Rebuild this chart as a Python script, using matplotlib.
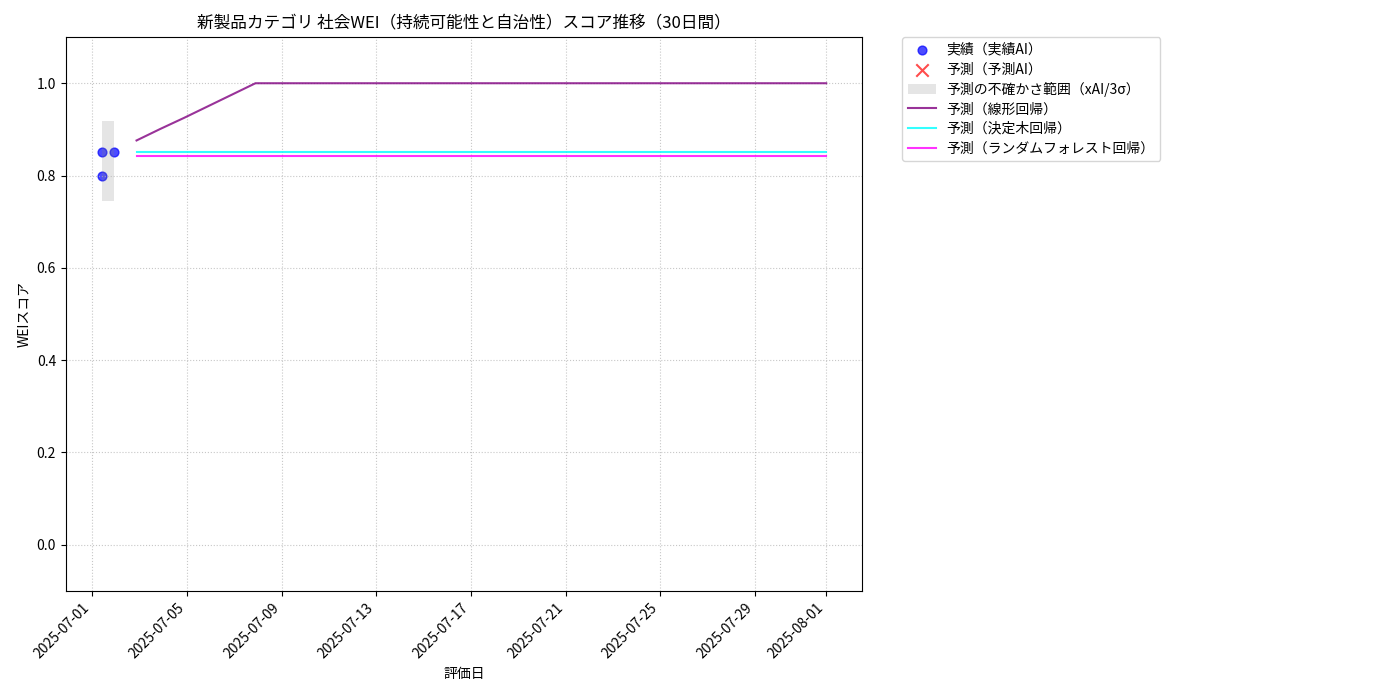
import matplotlib
matplotlib.use("Agg")
import matplotlib.pyplot as plt
import matplotlib.dates as mdates
import numpy as np
import pandas as pd

plt.rcParams['font.family'] = ['Noto Sans CJK JP', 'DejaVu Sans']

# 実績データ
actual_dates = pd.to_datetime(["2025-07-01 10:00", "2025-07-01 10:00", "2025-07-01 22:00"])
actual_scores = [0.85, 0.80, 0.85]

# 不確かさ範囲
band_dates = pd.to_datetime(["2025-07-01 10:00", "2025-07-01 22:00"])
band_lower = [0.745, 0.745]
band_upper = [0.919, 0.919]

# 予測 (30日間)
pred_start = "2025-07-02 21:00"
pred_end = "2025-08-01 00:00"
pred_dates = pd.date_range(pred_start, pred_end, periods=30)
pred_linear = [0.876, 0.901, 0.925, 0.950, 0.975] + [1.0] * 25
pred_tree = [0.850] * 30
pred_forest = [0.842] * 30

fig, ax = plt.subplots(figsize=(14, 7), dpi=100)

ax.scatter(actual_dates, actual_scores, color='blue', alpha=0.7, s=40, label='実績（実績AI）')
ax.scatter([], [], color='red', marker='x', s=80, alpha=0.7, label='予測（予測AI）')
ax.fill_between(band_dates, band_lower, band_upper, color='gray', alpha=0.2,
                linewidth=0, label='予測の不確かさ範囲（xAI/3σ）')
ax.plot(pred_dates, pred_linear, color='purple', alpha=0.8, linewidth=1.5, label='予測（線形回帰）')
ax.plot(pred_dates, pred_tree, color='cyan', alpha=0.8, linewidth=1.5, label='予測（決定木回帰）')
ax.plot(pred_dates, pred_forest, color='magenta', alpha=0.8, linewidth=1.5, label='予測（ランダムフォレスト回帰）')

ax.set_ylim(-0.1, 1.1)
ax.set_title('新製品カテゴリ 社会WEI（持続可能性と自治性）スコア推移（30日間）', fontsize=12)
ax.set_xlabel('評価日')
ax.set_ylabel('WEIスコア')
ax.xaxis.set_major_locator(mdates.DayLocator(bymonthday=[1, 5, 9, 13, 17, 21, 25, 29]))
ax.xaxis.set_major_formatter(mdates.DateFormatter('%Y-%m-%d'))
plt.setp(ax.get_xticklabels(), rotation=45, ha='right')
ax.grid(True, linestyle=':', alpha=0.7)
ax.legend(bbox_to_anchor=(1.05, 1), loc='upper left', borderaxespad=0., labelspacing=0.4)

plt.subplots_adjust(left=0.047, right=0.616, top=0.947, bottom=0.156)
plt.savefig('out.png')
